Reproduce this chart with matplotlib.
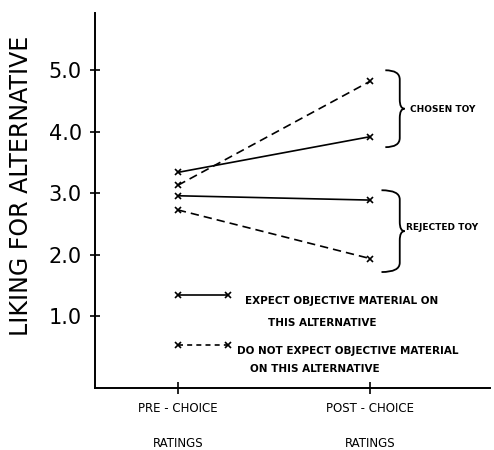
import numpy as np
import matplotlib.pyplot as plt
from matplotlib.path import Path
from matplotlib.patches import PathPatch

# Data
stages = ["PRE - CHOICE\n\nRATINGS", "POST - CHOICE\n\nRATINGS"]
chosen_expect = [3.34, 3.92]
chosen_no_expect = [3.13, 4.82]
rejected_expect = [2.96, 2.89]
rejected_no_expect = [2.73, 1.94]
yticks = [1, 2, 3, 4, 5]
ytick_labels = ["1.0", "2.0", "3.0", "4.0", "5.0"]

fig = plt.figure(figsize=(4.94, 4.5), dpi=100)
ax = fig.add_axes([0.192, 0.138, 0.80, 0.833])

x = np.arange(len(stages))
kw = dict(color="black", marker="x", markersize=4.5, markeredgewidth=1.2, lw=1.2)
ax.plot(x, chosen_expect, ls="-", **kw)
ax.plot(x, rejected_expect, ls="-", **kw)
ax.plot(x, chosen_no_expect, ls=(0, (5, 3)), **kw)
ax.plot(x, rejected_no_expect, ls=(0, (5, 3)), **kw)

ax.set_xlim(-0.432, 1.625)
ax.set_ylim(-0.163, 5.93)
for s in ["top", "right"]:
    ax.spines[s].set_visible(False)
for s in ["left", "bottom"]:
    ax.spines[s].set_linewidth(1.4)

ax.set_yticks(yticks)
ax.set_yticklabels(ytick_labels, fontsize=15)
ax.set_xticks(x)
ax.set_xticklabels(stages, fontsize=8.5, linespacing=1.45)
ax.tick_params(axis="y", direction="inout", length=7, width=1.2, pad=6)
ax.tick_params(axis="x", direction="inout", length=8, width=1.2, pad=6)
ax.set_ylabel("LIKING FOR ALTERNATIVE", fontsize=17)
ax.yaxis.set_label_coords(-0.157, 0.54)


def brace(ax, x0, x1, y0, y1, tip):
    ym = (y0 + y1) / 2
    codes = [Path.MOVETO, Path.CURVE3, Path.CURVE3, Path.LINETO,
             Path.CURVE3, Path.CURVE3, Path.MOVETO,
             Path.CURVE3, Path.CURVE3, Path.LINETO,
             Path.CURVE3, Path.CURVE3, Path.LINETO]
    verts = [(x0, y1), (x1, y1), (x1, y1 - 0.15), (x1, ym + 0.15),
             (x1, ym), (tip, ym), (tip, ym),
             (x1, ym), (x1, ym - 0.15), (x1, y0 + 0.15),
             (x1, y0), (x0, y0), (x0, y0)]
    ax.add_patch(PathPatch(Path(verts, codes), fill=False, lw=1.3, color="black"))


brace(ax, 1.08, 1.155, 3.75, 5.0, 1.18)
brace(ax, 1.06, 1.155, 1.72, 3.05, 1.18)
ax.text(1.21, 4.37, "CHOSEN TOY", fontsize=6.5, fontweight="bold", va="center")
ax.text(1.19, 2.44, "REJECTED TOY", fontsize=6.5, fontweight="bold", va="center")

# key
ax.plot([0, 0.26], [1.35, 1.35], ls="-", **kw)
ax.plot([0, 0.26], [0.53, 0.53], ls=(0, (3, 2.5)), **kw)
tkw = dict(fontsize=7.5, fontweight="bold", va="center")
ax.text(0.35, 1.25, "EXPECT OBJECTIVE MATERIAL ON", **tkw)
ax.text(0.47, 0.9, "THIS ALTERNATIVE", **tkw)
ax.text(0.31, 0.44, "DO NOT EXPECT OBJECTIVE MATERIAL", **tkw)
ax.text(0.375, 0.15, "ON THIS ALTERNATIVE", **tkw)

fig.savefig("out.png", dpi=100)
